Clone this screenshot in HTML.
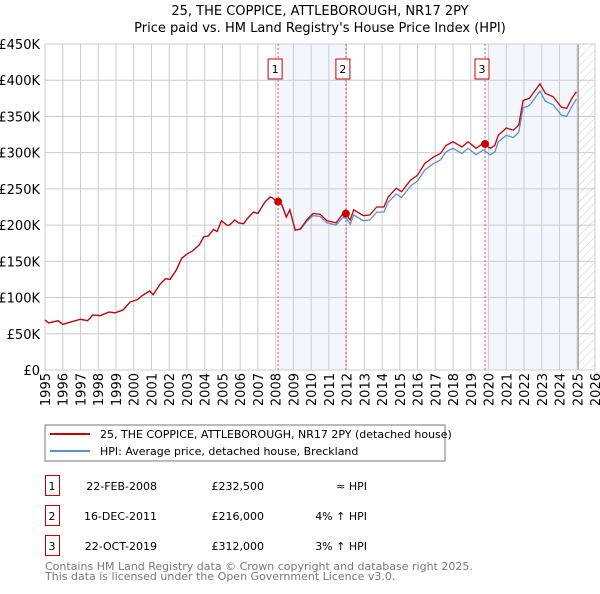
<!DOCTYPE html>
<html><head><meta charset="utf-8"><style>
body{margin:0;background:#fff;font-family:"DejaVu Sans","Liberation Sans",sans-serif;}
svg text{font-family:"DejaVu Sans","Liberation Sans",sans-serif;}
</style></head><body>
<svg id="chart" width="600" height="590" xmlns="http://www.w3.org/2000/svg">
<defs><pattern id="hatch" width="6" height="6" patternUnits="userSpaceOnUse" patternTransform="rotate(45)"><line x1="0" y1="0" x2="0" y2="6" stroke="#ccc" stroke-width="1"/></pattern></defs>
<text x="320" y="15" text-anchor="middle" font-size="13">25, THE COPPICE, ATTLEBOROUGH, NR17 2PY</text>
<text x="320" y="32" text-anchor="middle" font-size="13">Price paid vs. HM Land Registry's House Price Index (HPI)</text>
<g id="plot"></g>
<rect x="45" y="425" width="400" height="36" fill="#fff" stroke="#777"/>
<line x1="50" y1="434" x2="90" y2="434" stroke="#cc0000" stroke-width="2"/>
<text x="100" y="438" font-size="11">25, THE COPPICE, ATTLEBOROUGH, NR17 2PY (detached house)</text>
<line x1="50" y1="451" x2="90" y2="451" stroke="#5b8fd4" stroke-width="2"/>
<text x="100" y="455" font-size="11">HPI: Average price, detached house, Breckland</text>
<g font-size="11">
<rect x="45.5" y="475.5" width="14" height="20" fill="none" stroke="#cc0000"/><text x="52" y="490" text-anchor="middle">1</text>
<text x="157" y="490" text-anchor="end">22-FEB-2008</text><text x="264" y="490" text-anchor="end">£232,500</text><text x="367" y="490" text-anchor="end">≈ HPI</text>
<rect x="45.5" y="505.5" width="14" height="20" fill="none" stroke="#cc0000"/><text x="52" y="520" text-anchor="middle">2</text>
<text x="157" y="520" text-anchor="end">16-DEC-2011</text><text x="264" y="520" text-anchor="end">£216,000</text><text x="367" y="520" text-anchor="end">4% ↑ HPI</text>
<rect x="45.5" y="535.5" width="14" height="20" fill="none" stroke="#cc0000"/><text x="52" y="550" text-anchor="middle">3</text>
<text x="157" y="550" text-anchor="end">22-OCT-2019</text><text x="264" y="550" text-anchor="end">£312,000</text><text x="367" y="550" text-anchor="end">3% ↑ HPI</text>
</g>
<text x="45" y="570" font-size="11" fill="#777">Contains HM Land Registry data © Crown copyright and database right 2025.</text>
<text x="45" y="580" font-size="11" fill="#777">This data is licensed under the Open Government Licence v3.0.</text>
</svg>
<script>
const dates=[1995.0,1995.2,1995.75,1996.0,1996.4,1997.0,1997.4,1997.7,1998.1,1998.6,1998.95,1999.4,1999.8,2000.2,2000.5,2000.9,2001.1,2001.5,2001.8,2002.05,2002.4,2002.7,2003.0,2003.35,2003.7,2003.95,2004.2,2004.5,2004.7,2004.95,2005.25,2005.4,2005.7,2005.9,2006.2,2006.4,2006.75,2007.0,2007.4,2007.7,2007.85,2008.1,2008.35,2008.6,2008.8,2009.1,2009.4,2009.75,2010.1,2010.5,2010.9,2011.4,2011.8,2012.0,2012.2,2012.4,2012.95,2013.3,2013.7,2014.1,2014.35,2014.8,2015.1,2015.6,2016.0,2016.4,2016.9,2017.3,2017.6,2018.0,2018.5,2018.85,2019.3,2019.7,2020.1,2020.35,2020.55,2021.0,2021.4,2021.7,2021.95,2022.3,2022.9,2023.2,2023.65,2024.1,2024.4,2024.7,2024.95];
const price=[69,65,68,63,66,70,68,76,75,80,79,83,94,97,103,109,104,119,126,125,138,154,160,165,173,184,185,194,191,206,200,200,207,203,202,209,218,216,232,239,237,232,228,211,221,193,195,207,216,215,206,203,216,214,207,221,213,214,225,225,239,251,246,262,269,285,294,299,310,315,308,315,306,313,306,310,324,334,331,338,372,375,395,382,377,363,361,375,384];
const hpi=[69,65,68,63,66,70,68,76,75,80,79,83,94,97,103,109,104,119,126,125,138,154,160,165,173,184,185,194,191,206,200,200,207,203,202,209,218,216,232,239,237,232,228,211,221,193,194,205,213,212,203,200,211,209,201,214,206,207,218,218,232,243,238,254,261,276,285,290,301,306,299,306,297,304,297,301,315,324,321,328,362,365,385,371,366,352,350,364,374];
const saleDates=[2008.14,2011.96,2019.8];
const salePrices=[232.5,216,312];
const saleLabels=["1","2","3"];
const yTicks=[0,50,100,150,200,250,300,350,400,450];
const yTickLabels=["£0","£50K","£100K","£150K","£200K","£250K","£300K","£350K","£400K","£450K"];
const xTicks=[1995,1996,1997,1998,1999,2000,2001,2002,2003,2004,2005,2006,2007,2008,2009,2010,2011,2012,2013,2014,2015,2016,2017,2018,2019,2020,2021,2022,2023,2024,2025,2026];
const X0=45,X1=595,Y0=370,Y1=44;
const xs=d=>X0+(d-1995)/(2026-1995)*(X1-X0);
const ys=v=>Y0-v/450*(Y0-Y1);
const NS="http://www.w3.org/2000/svg";
const g=document.getElementById('plot');
function mk(t,a){const e=document.createElementNS(NS,t);for(const k in a)e.setAttribute(k,a[k]);g.appendChild(e);return e;}
const dataEnd=2025.05;
let r=mk('rect',{x:xs(saleDates[0]),y:Y1,width:xs(saleDates[1])-xs(saleDates[0]),height:Y0-Y1,fill:'#f3f6fd'});


r=mk('rect',{x:xs(saleDates[2]),y:Y1,width:xs(dataEnd)-xs(saleDates[2]),height:Y0-Y1,fill:'#f3f6fd'});


r=mk('rect',{x:xs(dataEnd),y:Y1,width:X1-xs(dataEnd),height:Y0-Y1,fill:'url(#hatch)'});


yTicks.forEach((v,i)=>{
 let l=mk('line',{x1:X0,x2:X1,y1:ys(v),y2:ys(v),stroke:'#ccc'});
 
 
 let t=mk('text',{x:40,y:ys(v)+5,'text-anchor':'end','font-size':'13'});t.textContent=yTickLabels[i];
 
 
});
xTicks.forEach(d=>{
 let l=mk('line',{x1:xs(d),x2:xs(d),y1:Y1,y2:Y0,stroke:'#ccc'});
 
 
 let t=mk('text',{x:0,y:0,'font-size':'13','text-anchor':'end',transform:`translate(${xs(d)+5},373) rotate(-90)`});t.textContent=d;
 
 
});
let fr=mk('line',{x1:xs(dataEnd),x2:xs(dataEnd),y1:Y1,y2:Y0,stroke:'#888'});


let bx=mk('rect',{x:X0,y:Y1,width:X1-X0,height:Y0-Y1,fill:'none',stroke:'#ccc'});


saleDates.forEach((d,i)=>{
 let l=mk('line',{x1:xs(d),x2:xs(d),y1:Y1,y2:Y0,stroke:'#e06060','stroke-dasharray':'2,2'});
 
 
});
const path=(arr)=>arr.map((v,i)=>(i?'L':'M')+xs(dates[i]).toFixed(1)+','+ys(v).toFixed(1)).join('');
let ph=mk('path',{d:path(hpi),fill:'none',stroke:'#5b8fd4','stroke-width':1.3});


let pp=mk('path',{d:path(price),fill:'none',stroke:'#cc0000','stroke-width':1.3});


saleDates.forEach((d,i)=>{
 let c=mk('circle',{cx:xs(d),cy:ys(salePrices[i]),r:4,fill:'#cc0000'});
 
 
 let b=mk('rect',{x:xs(d)-10,y:59,width:14,height:20,fill:'#fff',stroke:'#cc0000'});
 
 
 let t=mk('text',{x:xs(d)-3,y:73,'text-anchor':'middle','font-size':'11'});t.textContent=saleLabels[i];
 
 
});
</script>
</body></html>
